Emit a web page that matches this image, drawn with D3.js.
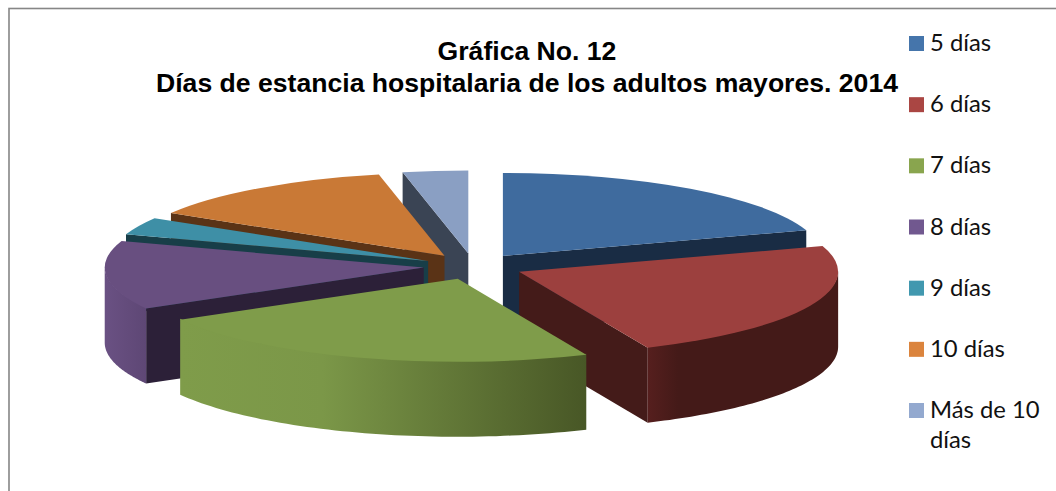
<!DOCTYPE html>
<html>
<head>
<meta charset="utf-8">
<script src="https://d3js.org/d3.v7.min.js"></script>
<style>
html, body { margin: 0; padding: 0; background: #fff; overflow: hidden; }
</style>
</head>
<body>
<div id="chart-area"></div>
<script>
var categories = ["5 días", "6 días", "7 días", "8 días", "9 días", "10 días", "Más de 10 días"];
var values = [20, 23.4, 23.4, 13.4, 3.4, 13.1, 3.3];
var legendColors = ["#4575AB", "#AA4643", "#89A54E", "#71588F", "#4198AF", "#DB843D", "#93A9CF"];
var topColors = ["#3F6B9E", "#9C403E", "#7F9C4A", "#684F80", "#3E8FA6", "#C97936", "#8A9FC3"];
var faceColors = ["#192C44", "#441B19", "#4A5A28", "#2C2038", "#183E48", "#5A3316", "#3A4454"];
var wallStart = ["#2F5178", "#561F1E", "#7F9C4A", "#6A5183", "#2F6E80", "#9A5C28", "#6A7B98"];
var wallEnd = ["#192C44", "#441A18", "#485726", "#5E4775", "#183E48", "#5A3316", "#3A4454"];
var titleLines = ["Gráfica No. 12", "Días de estancia hospitalaria de los adultos mayores. 2014"];

var width = 1056;
var height = 491;
var cx = 473.5;
var cy = 266.4;
var rx = 319;
var ry = 83;
var depth = 75;
var explode = 50;
var k = ry / rx;

var svg = d3.select("#chart-area").append("svg")
	.attr("width", width)
	.attr("height", height)
	.style("display", "block");

// chart frame, runs off the right and bottom of the picture
svg.append("rect")
	.attr("x", 9)
	.attr("y", 8.5)
	.attr("width", width + 20)
	.attr("height", height + 20)
	.attr("fill", "#fff")
	.attr("stroke", "#868686")
	.attr("stroke-width", 1.6);

var pie = d3.pie().sort(null).value((d) => { return d; });
var slices = pie(values).map((d, i) => { d.i = i; return d; });

var topArc = d3.arc().innerRadius(0).outerRadius(rx);
var offsetArc = d3.arc().innerRadius(explode).outerRadius(explode);
var line = d3.line();

var defs = svg.append("defs");

function point(a, r) {
	return [r * Math.sin(a), -r * Math.cos(a) * k];
}

function offset(d) {
	var c = offsetArc.centroid(d);
	return [cx + c[0], cy + c[1] * k];
}

function face(a) {
	var p = point(a, rx);
	return [[0, 0], p, [p[0], p[1] + depth], [0, depth]];
}

// painted back to front
var order = [0, 6, 5, 4, 3, 1, 2];

order.forEach((i) => {
	var d = slices[i];
	var o = offset(d);
	var g = svg.append("g").attr("transform", "translate(" + o[0] + "," + o[1] + ")");

	// cut faces, only those turned towards the viewer
	if (Math.cos(d.startAngle - Math.PI / 2) < -0.001) {
		g.append("path").attr("d", line(face(d.startAngle)) + "Z").attr("fill", faceColors[i]);
	}
	if (Math.cos(d.endAngle + Math.PI / 2) < -0.001) {
		g.append("path").attr("d", line(face(d.endAngle)) + "Z").attr("fill", faceColors[i]);
	}

	// outer wall, front half of the ellipse only
	var a0 = Math.max(d.startAngle, Math.PI / 2);
	var a1 = Math.min(d.endAngle, Math.PI * 1.5);
	if (a1 > a0) {
		// wall starts a bit above the rim so no dark seam shows under the top
		var arcPts = d3.range(0, 61).map((s) => { return point(a0 + (a1 - a0) * s / 60, rx); });
		var upPts = arcPts.map((p) => { return [p[0], p[1] - 1]; });
		var lowPts = arcPts.map((p) => { return [p[0], p[1] + depth]; }).reverse();
		var xs = d3.extent(arcPts, (p) => { return p[0]; });
		var grad = defs.append("linearGradient")
			.attr("id", "wall" + i)
			.attr("gradientUnits", "userSpaceOnUse")
			.attr("x1", xs[0]).attr("x2", xs[1])
			.attr("y1", 0).attr("y2", 0);
		grad.append("stop").attr("offset", "0").attr("stop-color", wallStart[i]);
		if (i === 1) {
			grad.append("stop").attr("offset", "0.16").attr("stop-color", wallEnd[i]);
		}
		if (i === 2) {
			grad.append("stop").attr("offset", "0.35").attr("stop-color", "#7B9748");
		}
		grad.append("stop").attr("offset", "1").attr("stop-color", wallEnd[i]);
		g.append("path")
			.attr("d", line(upPts.concat(lowPts)) + "Z")
			.attr("fill", "url(#wall" + i + ")");
	}

	g.append("path")
		.attr("transform", "scale(1," + k + ")")
		.attr("d", topArc(d))
		.attr("fill", topColors[i]);
});

// title
var titleX = [527, 527];
var titleY = [60, 92];
titleLines.forEach((t, i) => {
	svg.append("text")
		.attr("x", titleX[i])
		.attr("y", titleY[i])
		.attr("text-anchor", "middle")
		.attr("font-family", "'Liberation Sans', Arial, sans-serif")
		.attr("font-weight", "bold")
		.attr("font-size", "26.6px")
		.attr("fill", "#000")
		.text(t);
});

// legend
var legendY = d3.scaleLinear().domain([0, 6]).range([36, 403]);
var legend = svg.selectAll(".legend-item")
	.data(categories)
	.enter().append("g")
	.attr("class", "legend-item")
	.attr("transform", (d, i) => { return "translate(909," + legendY(i) + ")"; });

legend.append("rect")
	.attr("width", 15)
	.attr("height", 15)
	.attr("fill", (d, i) => { return legendColors[i]; });

legend.append("text")
	.attr("font-family", "Lato, 'Open Sans', sans-serif")
	.attr("font-size", "23.8px")
	.attr("fill", "#111")
	.each(function (d) {
		// long label wraps on two lines like the original
		var parts = d.length > 10 ? ["Más de 10", "días"] : [d];
		d3.select(this).selectAll("tspan")
			.data(parts)
			.enter().append("tspan")
			.attr("x", 21)
			.attr("y", (p, j) => { return 15 + j * 30; })
			.text((p) => { return p; });
	});
</script>
</body>
</html>
